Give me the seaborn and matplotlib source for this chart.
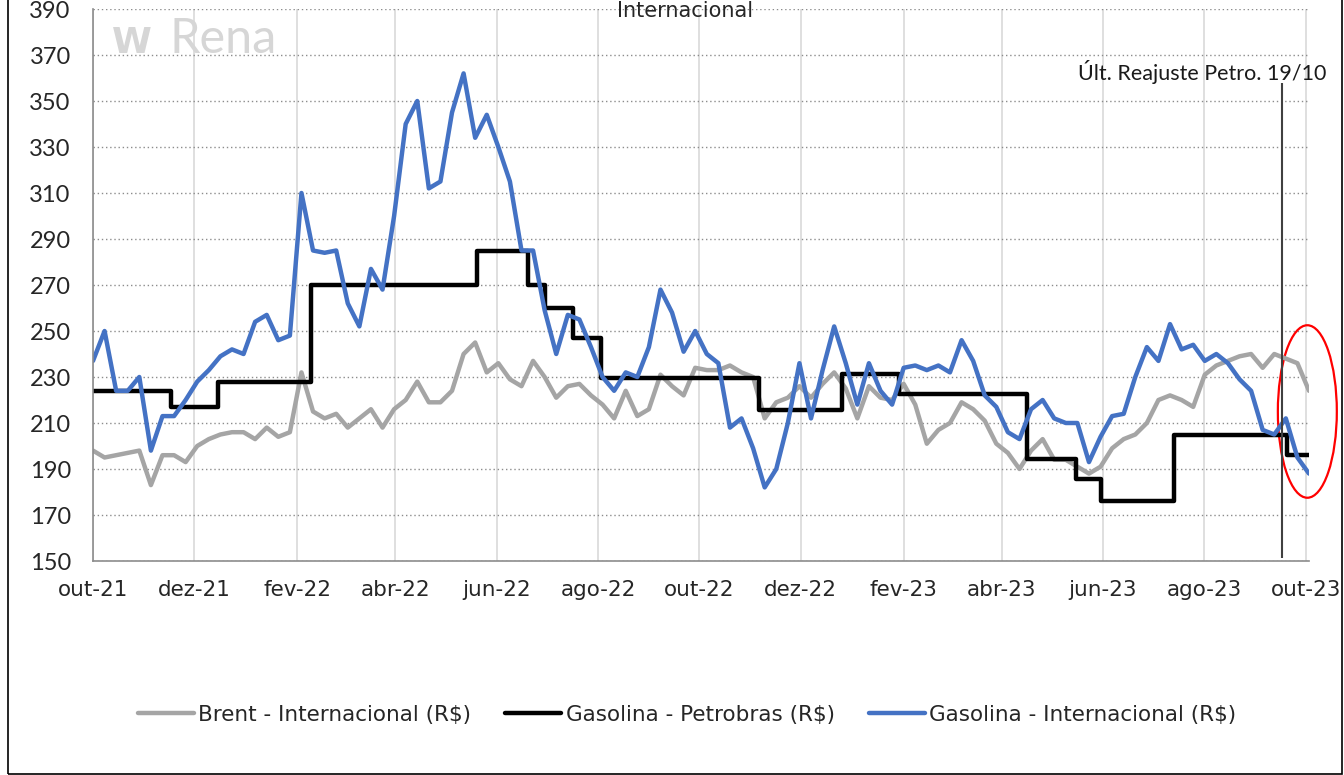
import numpy as np
import pandas as pd
import seaborn as sns
import matplotlib.pyplot as plt
import matplotlib.dates as mdates
from matplotlib.patches import Ellipse, Rectangle

# DATA

datas = pd.date_range('2021-10-01', '2023-10-03', periods=106)

brent = [198, 195, 196, 197, 198, 183, 196, 196, 193, 200,
         203, 205, 206, 206, 203, 208, 204, 206, 232, 215,
         212, 214, 208, 212, 216, 208, 216, 220, 228, 219,
         219, 224, 240, 245, 232, 236, 229, 226, 237, 230,
         221, 226, 227, 222, 218, 212, 224, 213, 216, 231,
         226, 222, 234, 233, 233, 235, 232, 230, 212, 219,
         221, 226, 221, 227, 232, 225, 212, 226, 221, 220,
         227, 218, 201, 207, 210, 219, 216, 211, 201, 197,
         190, 198, 203, 194, 194, 191, 188, 191, 199, 203,
         205, 210, 220, 222, 220, 217, 231, 235, 237, 239,
         240, 234, 240, 238, 236, 224]

gas_int = [237, 250, 224, 224, 230, 198, 213, 213, 220, 228,
           233, 239, 242, 240, 254, 257, 246, 248, 310, 285,
           284, 285, 262, 252, 277, 268, 300, 340, 350, 312,
           315, 345, 362, 334, 344, 330, 315, 285, 285, 259,
           240, 257, 255, 243, 230, 224, 232, 230, 243, 268,
           258, 241, 250, 240, 236, 208, 212, 199, 182, 190,
           210, 236, 212, 233, 252, 236, 218, 236, 224, 218,
           234, 235, 233, 235, 232, 246, 237, 222, 217, 206,
           203, 216, 220, 212, 210, 210, 193, 204, 213, 214,
           230, 243, 237, 253, 242, 244, 237, 240, 236, 229,
           224, 207, 205, 212, 195, 188]

pet_datas = pd.to_datetime(['2021-10-01', '2021-11-17', '2021-12-15', '2022-02-09',
                            '2022-05-20', '2022-06-20', '2022-06-30', '2022-07-17',
                            '2022-08-03', '2022-11-06', '2022-12-26', '2023-01-29',
                            '2023-04-16', '2023-05-16', '2023-05-31', '2023-07-14',
                            '2023-09-20', '2023-10-03'])
pet_vals = [224, 217, 228, 270, 285, 270, 260, 247, 229.5, 215.5,
            231.5, 222.5, 194.5, 185.5, 176, 205, 196, 196]

tick_datas = pd.date_range('2021-10-01', periods=13, freq='2MS')
tick_labels = ['out-21', 'dez-21', 'fev-22', 'abr-22', 'jun-22', 'ago-22', 'out-22',
               'dez-22', 'fev-23', 'abr-23', 'jun-23', 'ago-23', 'out-23']

reajuste = pd.Timestamp('2023-09-17')

df = pd.DataFrame({'data': datas, 'brent': brent, 'gas_int': gas_int})
df_pet = pd.DataFrame({'data': pet_datas, 'pet': pet_vals})

# PLOT

sns.set_style('white')
plt.rcParams['font.family'] = ['DejaVu Sans']

fig = plt.figure(figsize=(13.44, 7.75), dpi=100)
W, H = 1344, 775
ax = fig.add_axes([93 / W, 1 - 561 / H, (1309 - 93) / W, (561 - 9) / H])

sns.lineplot(data=df, x='data', y='brent', color='#A5A5A5', lw=3.2,
             label='Brent - Internacional (R$)', ax=ax)
sns.lineplot(data=df_pet, x='data', y='pet', color='black', lw=3.2,
             drawstyle='steps-post', label='Gasolina - Petrobras (R$)', ax=ax)
sns.lineplot(data=df, x='data', y='gas_int', color='#4472C4', lw=3.2,
             label='Gasolina - Internacional (R$)', ax=ax)

ax.set_ylim(150, 390)
ax.set_yticks(np.arange(150, 391, 20))
ax.set_xlim(pd.Timestamp('2021-10-01'), pd.Timestamp('2023-10-03'))
ax.set_xticks(tick_datas)
ax.set_xticklabels(tick_labels)
ax.set_xlabel('')
ax.set_ylabel('')

ax.grid(axis='y', color='#8c8c8c', linestyle=(0, (1, 2)), lw=1)
ax.grid(axis='x', color='#d9d9d9', linestyle='-', lw=1.2)
ax.set_axisbelow(True)
for s in ['top', 'right']:
    ax.spines[s].set_visible(False)
for s in ['left', 'bottom']:
    ax.spines[s].set_color('#8c8c8c')
    ax.spines[s].set_linewidth(1.2)

ax.tick_params(axis='y', length=5, color='#8c8c8c', pad=11, labelsize=17)
ax.tick_params(axis='x', length=5, color='#8c8c8c', pad=9, labelsize=15.5)
for t in ax.get_yticklabels():
    t.set_family('Lato')

# last adjustment marker
ax.vlines(reajuste, 151.5, 358, color='#404040', lw=1.5)
ax.text(1326 / W, 1 - 72 / H, 'Últ. Reajuste Petro. 19/10', transform=fig.transFigure,
        ha='right', va='center', fontsize=15.5, family='Lato', color='#1a1a1a')

el = Ellipse((mdates.date2num(pd.Timestamp('2023-10-02')), 215), width=35.5, height=75,
             fill=False, edgecolor='red', lw=1.6, clip_on=False)
ax.add_patch(el)

# watermark + title
fig.text(112 / W, 1 - 53 / H, 'W', fontsize=26, fontweight='bold', color='#d6d6d6', va='baseline')
fig.text(170 / W, 1 - 53 / H, 'Rena', fontsize=35, family='Lato', color='#d6d6d6', va='baseline')
fig.text(685 / W, 1 - 1 / H, 'Internacional', fontsize=15, ha='center', va='top')

ax.legend_.remove()
handles, labels = ax.get_legend_handles_labels()
fig.legend(handles, labels, loc='center', ncol=3, frameon=False,
           bbox_to_anchor=(687 / W, 1 - 715 / H), fontsize=15.5,
           handlelength=2.6, handletextpad=0.2, columnspacing=1.6)

fig.add_artist(Rectangle((8 / W, 1 / H), (1342 - 8) / W, 1.2, transform=fig.transFigure,
                         fill=False, edgecolor='black', lw=1.2))

fig.savefig('out.png', dpi=100)
